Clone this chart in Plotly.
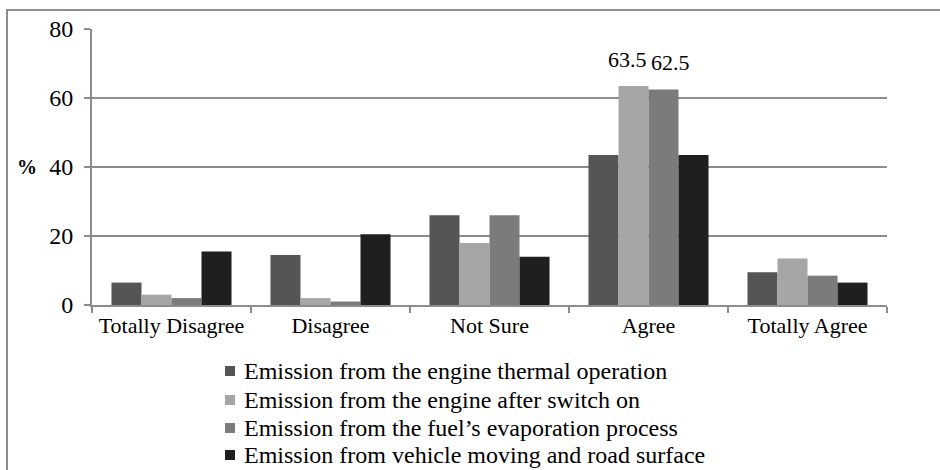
import plotly.graph_objects as go

categories = ["Totally Disagree", "Disagree", "Not Sure", "Agree", "Totally Agree"]

series_names = [
    "Emission from the engine thermal operation",
    "Emission from the engine after switch on",
    "Emission from the fuel\u2019s evaporation process",
    "Emission from vehicle moving and road surface",
]

thermal_operation = [6.5, 14.5, 26, 43.5, 9.5]
after_switch_on = [3, 2, 18, 63.5, 13.5]
fuel_evaporation = [2, 1, 26, 62.5, 8.5]
vehicle_road = [15.5, 20.5, 14, 43.5, 6.5]

y_ticks = [0, 20, 40, 60, 80]

series_values = [thermal_operation, after_switch_on, fuel_evaporation, vehicle_road]
colors = ["#555555", "#a6a6a6", "#7b7b7b", "#1f1f1f"]

FONT = "Liberation Serif, Times New Roman, serif"
W, H = 940, 470
L, R, T, B = 92, 53, 29, 165
PW, PH = W - L - R, H - T - B


def px_x(px):
    # pixel -> paper x
    return (px - L) / PW


def px_y(py):
    # pixel -> paper y
    return (H - B - py) / PH


fig = go.Figure()
for i, (name, vals) in enumerate(zip(series_names, series_values)):
    fig.add_trace(go.Bar(
        x=categories, y=vals, name=name, showlegend=False,
        marker=dict(color=colors[i], line=dict(width=0)),
    ))

# value labels over the two tallest Agree bars
bargap = 0.245
bw = (1 - bargap) / 4
for si, xs in ((1, -6), (2, 7)):
    idx = categories.index("Agree")
    v = series_values[si][idx]
    fig.add_annotation(
        x=idx + (si - 1.5) * bw, y=v, xref="x", yref="y",
        text=f"{v}", showarrow=False, yanchor="bottom", yshift=12, xshift=xs,
        font=dict(family=FONT, size=22, color="#000"),
    )

fig.add_annotation(
    x=px_x(27), y=40, xref="paper", yref="y", text="<b>%</b>", showarrow=False,
    font=dict(family=FONT, size=20, color="#000"), xanchor="center",
)

# hand-built legend (square + label per series)
row_y = [371, 400, 428, 455]
for i, name in enumerate(series_names):
    cy = row_y[i]
    fig.add_shape(type="rect", xref="paper", yref="paper",
                  x0=px_x(225), x1=px_x(235), y0=px_y(cy + 5), y1=px_y(cy - 5),
                  fillcolor=colors[i], line=dict(width=0))
    fig.add_annotation(x=px_x(242), y=px_y(cy), xref="paper", yref="paper",
                       text=name, showarrow=False, xanchor="left", yanchor="middle",
                       font=dict(family=FONT, size=24, color="#000"))

# outer frame
fig.add_shape(type="rect", xref="paper", yref="paper",
              x0=px_x(7), x1=px_x(1000), y0=px_y(600), y1=px_y(10),
              line=dict(color="#8c8c8c", width=2), layer="below")

fig.update_layout(
    width=W, height=H,
    margin=dict(l=L, r=R, t=T, b=B),
    plot_bgcolor="white", paper_bgcolor="white",
    barmode="group", bargap=bargap, bargroupgap=0,
    font=dict(family=FONT, color="#000"),
    showlegend=False,
)
fig.update_xaxes(
    showline=True, linecolor="#8c8c8c", linewidth=2,
    ticks="outside", tickson="boundaries", ticklen=6, tickcolor="#8c8c8c", tickwidth=1.5,
    tickfont=dict(family=FONT, size=22, color="#000"),
    showgrid=False,
)
fig.update_yaxes(
    range=[0, 80], tickvals=y_ticks,
    showline=True, linecolor="#8c8c8c", linewidth=2,
    ticks="outside", ticklen=6, tickcolor="#8c8c8c", tickwidth=1.5,
    ticklabelstandoff=6,
    showgrid=True, gridcolor="#8c8c8c", gridwidth=2,
    tickfont=dict(family=FONT, size=24, color="#000"),
    zeroline=False,
)

fig.write_html(
    "out.html",
    config={"displayModeBar": False},
    post_script="document.body.style.margin='0';document.body.style.overflow='hidden';",
)
